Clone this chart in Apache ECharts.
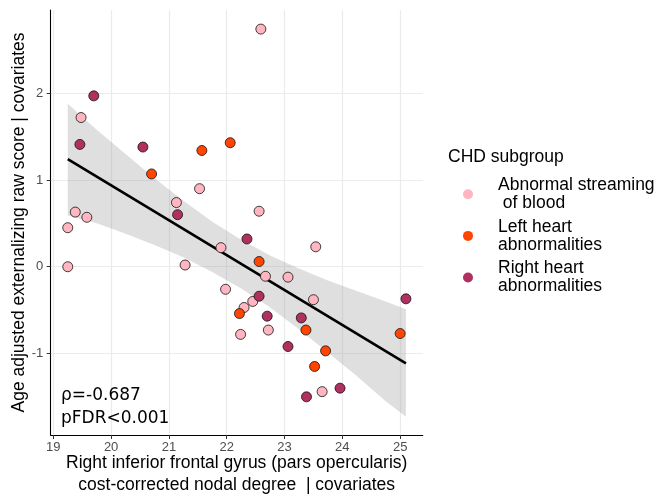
<!DOCTYPE html>
<html lang="en">

<head>
    <meta charset="UTF-8">
    <title>CHD subgroup scatter</title>
    <style>
        * {
            margin: 0;
            padding: 0;
        }

        #main {
            width: 657px;
            height: 498px;
            background-color: #ffffff;
        }
    </style>
</head>
<script src="https://cdn.jsdelivr.net/npm/echarts@6/dist/echarts.min.js"></script>

<body>
    <div id="main"></div>
    <script>
        // ticks
        var xTicks = [19, 20, 21, 22, 23, 24, 25];
        var yTicks = [-1, 0, 1, 2];

        // groups (legend order)
        var groups = ['Abnormal streaming\n of blood', 'Left heart\nabnormalities', 'Right heart\nabnormalities'];
        var groupColors = ['#FFB6C1', '#FF4500', '#B03060'];

        // points
        var streamingX = [19.48, 21.53, 21.13, 19.38, 19.58, 22.59, 22.56, 19.25, 19.25, 21.28, 21.90, 21.98, 23.54, 22.67, 23.06, 22.45, 22.30, 23.50, 22.24, 22.72, 23.65];
        var streamingY = [1.72, 0.90, 0.74, 0.63, 0.57, 2.74, 0.64, 0.45, 0.00, 0.02, 0.22, -0.26, 0.23, -0.11, -0.12, -0.40, -0.47, -0.38, -0.78, -0.73, -1.44];

        var leftX = [21.57, 22.06, 20.70, 22.56, 22.22, 23.37, 25.00, 23.71, 23.52];
        var leftY = [1.34, 1.43, 1.07, 0.06, -0.54, -0.73, -0.77, -0.97, -1.15];

        var rightX = [19.70, 19.46, 20.55, 21.15, 22.35, 22.56, 22.70, 23.29, 25.10, 23.06, 23.96, 23.38];
        var rightY = [1.97, 1.41, 1.38, 0.60, 0.32, -0.34, -0.57, -0.59, -0.37, -0.92, -1.40, -1.50];

        // fitted line and its confidence band
        var fitX = [19.25, 25.1];
        var fitY = [1.24, -1.115];
        var bandX = [19.25, 19.75, 20.25, 20.75, 21.25, 21.75, 22.25, 22.75, 23.25, 23.75, 24.25, 24.75, 25.1];
        var bandUpper = [1.88, 1.58, 1.30, 1.02, 0.76, 0.52, 0.31, 0.13, -0.02, -0.16, -0.28, -0.40, -0.49];
        var bandLower = [0.59, 0.50, 0.38, 0.25, 0.11, -0.06, -0.25, -0.47, -0.72, -0.99, -1.26, -1.55, -1.73];

        var FONT = '"Liberation Sans", Arial, sans-serif';

        function pairs(xs, ys) {
            return xs.map(function (x, i) { return [x, ys[i]]; });
        }

        var chartDom = document.getElementById('main');
        var myChart = echarts.init(chartDom, null, { renderer: 'canvas' });

        var pointSeries = [pairs(streamingX, streamingY), pairs(leftX, leftY), pairs(rightX, rightY)].map(function (d, i) {
            return {
                name: groups[i],
                type: 'scatter',
                data: d,
                symbol: 'circle',
                symbolSize: 10,
                z: 5,
                itemStyle: {
                    color: groupColors[i],
                    borderColor: '#111',
                    borderWidth: 0.8,
                    opacity: 1
                }
            };
        });

        var option = {
            animation: false,
            backgroundColor: '#ffffff',
            textStyle: { fontFamily: FONT },
            title: {
                text: 'CHD subgroup',
                left: 448,
                top: 147,
                padding: 0,
                textStyle: { fontSize: 17.5, fontWeight: 'normal', color: '#000', fontFamily: FONT, lineHeight: 20 }
            },
            legend: {
                orient: 'vertical',
                left: 463,
                top: 176,
                padding: 0,
                itemWidth: 50,
                itemHeight: 10,
                itemGap: 5,
                icon: 'circle',
                itemStyle: { borderWidth: 0 },
                textStyle: { fontSize: 17.5, lineHeight: 18.3, color: '#000', fontFamily: FONT },
                data: groups
            },
            grid: {
                left: 50.7,
                right: 234.3,
                top: 10,
                bottom: 63,
                outerBoundsMode: 'none'
            },
            xAxis: {
                type: 'value',
                min: 18.955,
                max: 25.39,
                name: 'Right inferior frontal gyrus (pars opercularis)\ncost-corrected nodal degree  | covariates',
                nameLocation: 'middle',
                nameGap: 17,
                nameMoveOverlap: false,
                nameTextStyle: { fontSize: 17.5, color: '#000', fontFamily: FONT, lineHeight: 22, align: 'center' },
                axisLine: { show: true, onZero: false, lineStyle: { color: '#000', width: 1.1 } },
                axisTick: { show: true, length: 4, customValues: xTicks, lineStyle: { color: '#333', width: 1 } },
                axisLabel: { customValues: xTicks, color: '#4D4D4D', fontSize: 13, margin: 6, fontFamily: FONT },
                splitLine: { show: true, lineStyle: { color: '#EBEBEB', width: 1.2 } }
            },
            yAxis: {
                type: 'value',
                min: -1.94,
                max: 2.96,
                name: 'Age adjusted externalizing raw score | covariates',
                nameLocation: 'middle',
                nameGap: 23,
                nameMoveOverlap: false,
                nameTextStyle: { fontSize: 17.5, color: '#000', fontFamily: FONT },
                axisLine: { show: true, onZero: false, lineStyle: { color: '#000', width: 1.1 } },
                axisTick: { show: true, length: 4, customValues: yTicks, lineStyle: { color: '#333', width: 1 } },
                axisLabel: { customValues: yTicks, color: '#4D4D4D', fontSize: 13, margin: 7.5, fontFamily: FONT },
                splitLine: { show: true, lineStyle: { color: '#EBEBEB', width: 1.2 } }
            },
            graphic: [{
                type: 'text',
                left: 61,
                top: 384,
                z: 10,
                style: {
                    text: 'ρ=-0.687\npFDR<0.001',
                    fontSize: 17,
                    fontFamily: '"DejaVu Sans", sans-serif',
                    lineHeight: 23,
                    fill: '#000'
                }
            }],
            series: [
                {
                    // confidence band
                    type: 'custom',
                    silent: true,
                    z: 2,
                    data: [[bandX[0], bandUpper[0]]],
                    renderItem: function (params, api) {
                        var pts = [];
                        for (var i = 0; i < bandX.length; i++) {
                            pts.push(api.coord([bandX[i], bandUpper[i]]));
                        }
                        for (var j = bandX.length - 1; j >= 0; j--) {
                            pts.push(api.coord([bandX[j], bandLower[j]]));
                        }
                        return {
                            type: 'polygon',
                            shape: { points: pts },
                            style: { fill: 'rgba(150,150,150,0.3)' }
                        };
                    }
                },
                {
                    // fitted line
                    type: 'line',
                    data: pairs(fitX, fitY),
                    symbol: 'none',
                    silent: true,
                    z: 3,
                    lineStyle: { color: '#000', width: 2.6 }
                }
            ].concat(pointSeries)
        };

        option && myChart.setOption(option);
    </script>
</body>

</html>
